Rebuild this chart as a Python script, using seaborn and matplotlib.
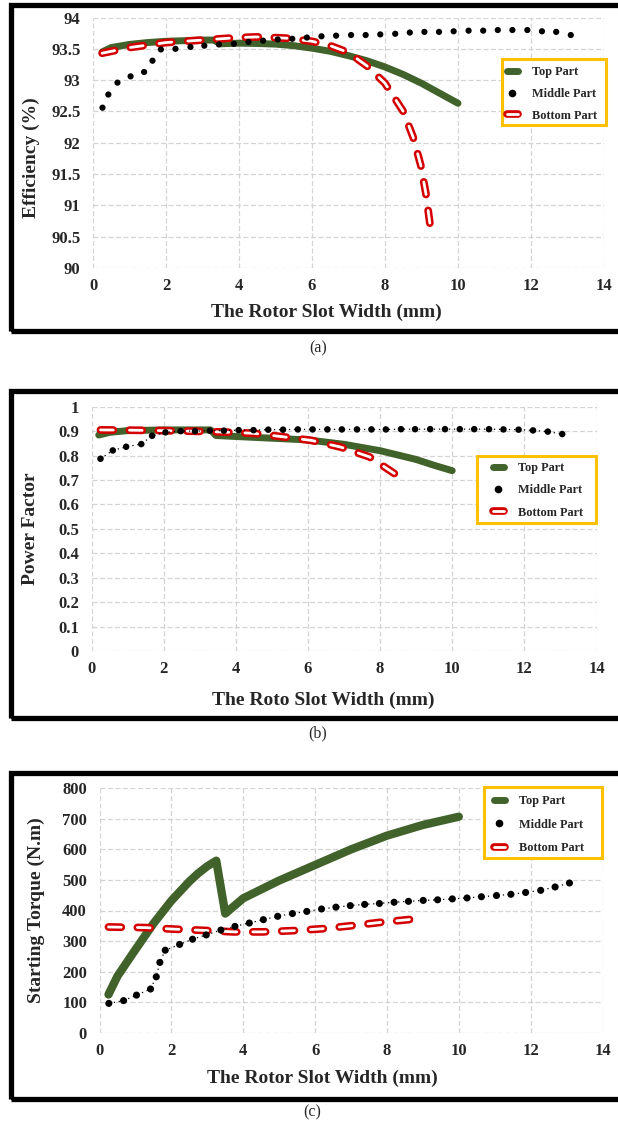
import numpy as np
import pandas as pd
import matplotlib
matplotlib.use("Agg")
import matplotlib.pyplot as plt
import matplotlib.patheffects as pe
from matplotlib.patches import Rectangle
from matplotlib.lines import Line2D
import seaborn as sns

sns.set_theme(style="white")
plt.rcParams['font.family'] = ['Liberation Serif', 'DejaVu Serif']

# ---------------- data ----------------
series_labels = ["Top Part", "Middle Part", "Bottom Part"]
x_ticks = [0, 2, 4, 6, 8, 10, 12, 14]

# (a) Efficiency (%)
eff_top_x = [0.25, 0.5, 1.0, 1.5, 2.0, 2.5, 3.0, 3.3, 3.5, 4.0, 4.5, 5.0, 5.5, 6.0, 6.5, 7.0, 7.5, 8.0, 8.5, 9.0, 9.5, 10.0]
eff_top_y = [93.45, 93.52, 93.57, 93.60, 93.62, 93.63, 93.64, 93.64, 93.58, 93.59, 93.585, 93.575, 93.55, 93.51, 93.46, 93.39, 93.31, 93.21, 93.09, 92.95, 92.79, 92.63]
eff_mid_x = [0.26, 0.42, 0.67, 1.03, 1.40, 1.63, 1.86, 2.26, 2.67, 3.05, 3.45, 3.86, 4.26, 4.66, 5.06, 5.46, 5.86, 6.26, 6.66, 7.07, 7.47, 7.87, 8.28, 8.68, 9.08, 9.48, 9.88, 10.29, 10.69, 11.09, 11.49, 11.90, 12.30, 12.69, 13.09]
eff_mid_y = [92.56, 92.77, 92.96, 93.06, 93.13, 93.31, 93.49, 93.50, 93.53, 93.55, 93.57, 93.58, 93.61, 93.63, 93.65, 93.66, 93.68, 93.70, 93.71, 93.72, 93.72, 93.73, 93.74, 93.76, 93.77, 93.77, 93.78, 93.79, 93.79, 93.80, 93.80, 93.80, 93.78, 93.77, 93.72]
eff_bot_x = [0.25, 1.0, 2.0, 3.0, 4.0, 4.5, 5.3, 6.0, 6.5, 7.0, 7.5, 8.0, 8.5, 8.77, 8.98, 9.12, 9.23, 9.27]
eff_bot_y = [93.43, 93.52, 93.60, 93.64, 93.68, 93.69, 93.67, 93.62, 93.55, 93.44, 93.23, 92.95, 92.50, 92.09, 91.64, 91.19, 90.71, 90.55]
eff_yticks = [90, 90.5, 91, 91.5, 92, 92.5, 93, 93.5, 94]

# (b) Power Factor
pf_top_x = [0.2, 0.5, 1.0, 2.0, 3.0, 3.3, 3.45, 4.0, 5.0, 6.0, 7.0, 8.0, 9.0, 9.5, 10.0]
pf_top_y = [0.884, 0.895, 0.902, 0.905, 0.905, 0.905, 0.882, 0.878, 0.871, 0.864, 0.846, 0.820, 0.784, 0.760, 0.738]
pf_mid_x = [0.25, 0.59, 0.96, 1.38, 1.68, 2.05, 2.47, 2.87, 3.28, 3.67, 4.08, 4.49, 4.90, 5.31, 5.72, 6.13, 6.54, 6.94, 7.36, 7.76, 8.16, 8.58, 8.97, 9.39, 9.80, 10.21, 10.61, 11.02, 11.42, 11.84, 12.24, 12.65, 13.05]
pf_mid_y = [0.787, 0.821, 0.836, 0.847, 0.881, 0.895, 0.900, 0.900, 0.902, 0.902, 0.904, 0.904, 0.906, 0.906, 0.907, 0.907, 0.907, 0.907, 0.907, 0.907, 0.907, 0.908, 0.908, 0.908, 0.908, 0.908, 0.908, 0.908, 0.907, 0.906, 0.903, 0.898, 0.888]
pf_bot_x = [0.25, 1.0, 2.0, 3.0, 3.7, 4.5, 5.3, 6.1, 6.9, 7.7, 8.36, 8.6]
pf_bot_y = [0.905, 0.904, 0.902, 0.899, 0.896, 0.891, 0.877, 0.862, 0.835, 0.795, 0.730, 0.707]
pf_yticks = [0, 0.1, 0.2, 0.3, 0.4, 0.5, 0.6, 0.7, 0.8, 0.9, 1]

# (c) Starting Torque (N.m)
st_top_x = [0.25, 0.5, 1.0, 1.5, 2.0, 2.5, 2.75, 3.0, 3.25, 3.5, 4.0, 5.0, 6.0, 7.0, 8.0, 9.0, 10.0]
st_top_y = [125, 185, 272, 357, 432, 495, 522, 545, 563, 390, 440, 498, 549, 600, 645, 680, 707]
st_mid_x = [0.26, 0.67, 1.03, 1.42, 1.58, 1.68, 1.83, 2.23, 2.59, 2.97, 3.38, 3.77, 4.17, 4.56, 4.96, 5.37, 5.77, 6.18, 6.58, 6.98, 7.38, 7.79, 8.20, 8.60, 9.01, 9.41, 9.82, 10.23, 10.63, 11.05, 11.45, 11.86, 12.28, 12.68, 13.08]
st_mid_y = [96, 105, 123, 143, 183, 230, 270, 289, 306, 320, 336, 348, 359, 370, 381, 390, 397, 405, 411, 416, 420, 423, 427, 430, 433, 435, 438, 441, 445, 449, 453, 459, 466, 477, 490]
st_bot_x = [0.25, 1.27, 2.07, 2.89, 3.73, 4.55, 5.39, 6.18, 7.0, 7.8, 8.59, 8.75]
st_bot_y = [346, 344, 339, 335, 330, 330, 334, 340, 350, 361, 370, 372]
st_yticks = [0, 100, 200, 300, 400, 500, 600, 700, 800]

GREEN = "#41622b"
RED = "#d40000"
GOLD = "#FFC000"
GRID = "#d4d4d4"

W, H = 618, 1122
fig = plt.figure(figsize=(W / 100, H / 100), dpi=100)


def rect(l, r, t, b):
    return [l / W, 1 - b / H, (r - l) / W, (b - t) / H]


def fmt(v):
    return f"{v:g}"


def panel(axpos, tx, ty, mx, my, bx, by, yticks, ylabel, xlabel, xl_x, yl_xy,
          leg_box, leg_anchor, leg_sp, green_lw, dot_s, mid_line, caption, cap_xy,
          frame_tb):
    ax = fig.add_axes(rect(*axpos))
    sns.lineplot(x=tx, y=ty, ax=ax, color=GREEN, lw=green_lw, errorbar=None,
                 solid_capstyle="round", solid_joinstyle="round", zorder=2)
    sns.lineplot(x=bx, y=by, ax=ax, color="white", lw=2.0, errorbar=None,
                 linestyle=(0, (4.6, 5.8)), dash_capstyle="round", zorder=3,
                 path_effects=[pe.Stroke(linewidth=5.6, foreground=RED), pe.Normal()])
    if mid_line:
        sns.lineplot(x=mx, y=my, ax=ax, color="black", lw=0.9, errorbar=None,
                     linestyle=(0, (1, 3)), zorder=3.5)
    sns.scatterplot(x=mx, y=my, ax=ax, color="black", s=dot_s, edgecolor="none",
                    zorder=4)
    ax.set_xlim(0, 14)
    ax.set_ylim(yticks[0], yticks[-1])
    ax.set_xticks(x_ticks)
    ax.set_xticklabels([fmt(v) for v in x_ticks])
    ax.set_yticks(yticks)
    ax.set_yticklabels([fmt(v) for v in yticks])
    for s in ax.spines.values():
        s.set_visible(False)
    ax.grid(True, color=GRID, linestyle=(0, (4, 2)), lw=0.9)
    ax.set_axisbelow(True)
    ax.tick_params(axis="both", length=0, labelsize=12)
    ax.tick_params(axis="x", pad=7.5)
    ax.tick_params(axis="y", pad=9)
    for lab in ax.get_xticklabels() + ax.get_yticklabels():
        lab.set_fontweight("bold")
    ax.set_xlabel(xlabel, fontsize=14, fontweight="bold")
    ax.set_ylabel(ylabel, fontsize=14, fontweight="bold")
    ax.xaxis.set_label_coords(xl_x[0], xl_x[1])
    ax.xaxis.label.set_verticalalignment("center")
    ax.yaxis.set_label_coords(yl_xy[0], yl_xy[1])
    ax.yaxis.label.set_verticalalignment("center")

    # legend frame (gold box) drawn as a patch, legend itself frameless
    l, r, t, b = leg_box
    ax.add_patch(Rectangle((l / W, 1 - b / H), (r - l) / W, (b - t) / H,
                           transform=fig.transFigure, clip_on=False,
                           facecolor="white", edgecolor=GOLD, lw=2.2, zorder=4.9))
    h_top = Line2D([0], [0], color=GREEN, lw=5, solid_capstyle="round")
    h_mid = Line2D([0], [0], color="black", marker="o", ms=4.5, lw=0)
    h_bot = Line2D([0], [0], color="white", lw=2.0, solid_capstyle="round",
                   path_effects=[pe.Stroke(linewidth=5.5, foreground=RED), pe.Normal()])
    leg = ax.legend([h_top, h_mid, h_bot], series_labels, loc="upper left",
                    bbox_to_anchor=(leg_anchor[0] / W, 1 - leg_anchor[1] / H),
                    bbox_transform=fig.transFigure, borderaxespad=0, borderpad=0,
                    frameon=False, handlelength=0.9, handletextpad=1.2,
                    labelspacing=leg_sp,
                    prop={"family": ["Liberation Serif"], "weight": "bold", "size": 8.8})
    leg.set_zorder(6)

    # panel frame
    t, b = frame_tb
    fig.patches.append(Rectangle((10.5 / W, 1 - b / H), (640 - 10.5) / W, (b - t) / H,
                                 transform=fig.transFigure, fill=False,
                                 edgecolor="black", lw=3.8, zorder=10))
    fig.text(cap_xy[0] / W, 1 - cap_xy[1] / H, caption, ha="center", va="center",
             fontsize=11.5)
    return ax


ax_a = panel((93, 604, 17.5, 268), eff_top_x, eff_top_y, eff_mid_x, eff_mid_y,
             eff_bot_x, eff_bot_y, eff_yticks, "Efficiency (%)",
             "The Rotor Slot Width (mm)", (0.456, -0.176), (-0.120, 0.441),
             (502, 606, 59, 125), (506.5, 66), 0.8,
             5.0, 20, False, "(a)", (318, 348), (5.5, 331))
ax_b = panel((91.5, 596.5, 406.7, 651), pf_top_x, pf_top_y, pf_mid_x, pf_mid_y,
             pf_bot_x, pf_bot_y, pf_yticks, "Power Factor",
             "The Roto Slot Width (mm)", (0.459, -0.201), (-0.120, 0.501),
             (477, 596, 456, 523), (492.5, 462), 0.84,
             5.0, 22, True, "(b)", (318, 733), (390.5, 717.5))
ax_c = panel((99.5, 602.5, 788.3, 1032.7), st_top_x, st_top_y, st_mid_x, st_mid_y,
             st_bot_x, st_bot_y, st_yticks, "Starting Torque (N.m)",
             "The Rotor Slot Width (mm)", (0.444, -0.186), (-0.126, 0.502),
             (484, 602, 787, 858), (493.5, 795), 0.96,
             6.0, 26, True, "(c)", (312, 1112), (772.5, 1099))

fig.savefig("out.png", dpi=100)
